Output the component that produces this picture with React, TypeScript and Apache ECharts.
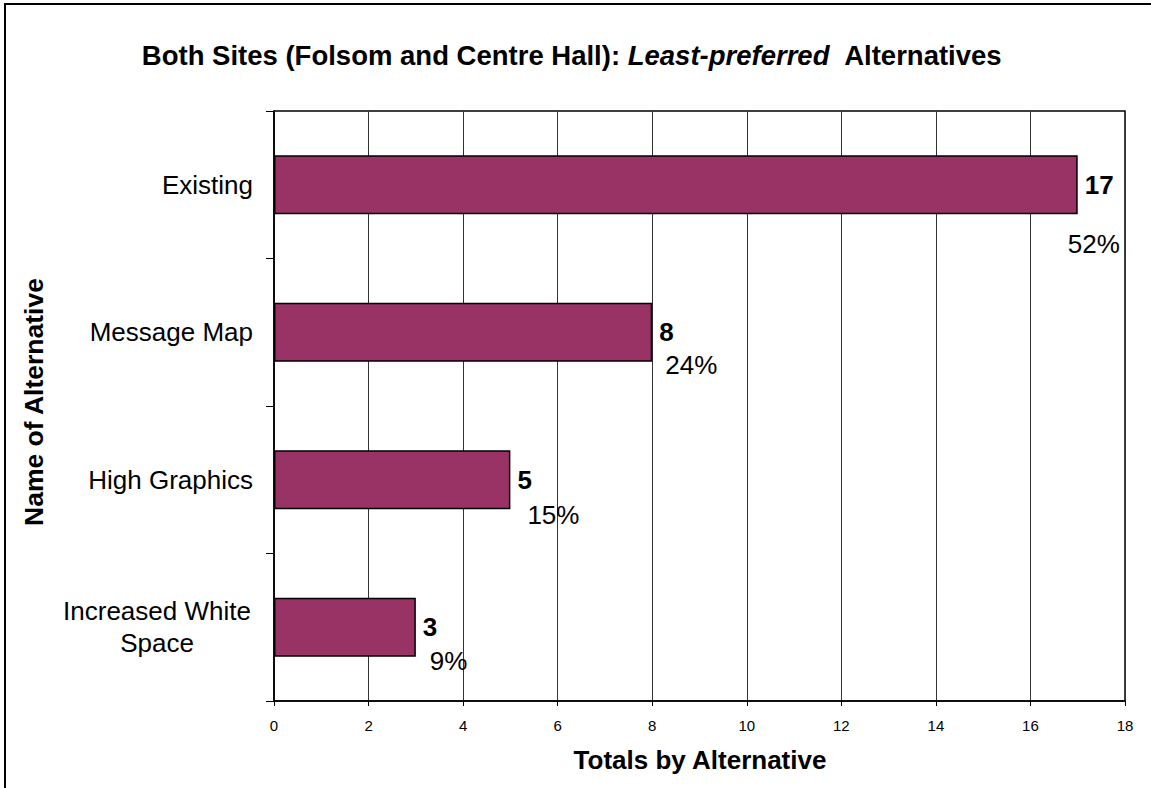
import React, { useEffect, useRef } from "react";
import * as echarts from "echarts";

const categories = ["Existing", "Message Map", "High Graphics", "Increased White\nSpace"];
const totals = [17, 8, 5, 3];
const percentLabels = ["52%", "24%", "15%", "9%"];
const percentOffsets = [[-10, 59], [13, 33], [17, 35], [14, 34]];
const xTicks = { min: 0, max: 18, interval: 2 };

const FONT = "'Liberation Sans', Arial, Helvetica, sans-serif";

export default function App() {
  const ref = useRef<HTMLDivElement>(null);
  useEffect(() => {
    document.body.style.margin = "0";
    const chart = echarts.init(ref.current!, null, { renderer: "svg" });
    chart.setOption({
      animation: false,
      backgroundColor: "#fff",
      textStyle: { fontFamily: FONT },
      title: {
        text: "{a|Both Sites (Folsom and Centre Hall): }{b|Least-preferred}{a|  Alternatives}",
        left: 567,
        top: 34,
        textAlign: "center",
        textStyle: {
          rich: {
            a: { fontSize: 27.5, fontWeight: "bold", fontFamily: FONT, color: "#000", lineHeight: 32 },
            b: { fontSize: 27.5, fontWeight: "bold", fontStyle: "italic", fontFamily: FONT, color: "#000", lineHeight: 32 },
          },
        },
      },
      grid: { left: 274, right: 26, top: 111, bottom: 87, show: true, borderColor: "#000", borderWidth: 1.5, containLabel: false },
      xAxis: {
        type: "value",
        min: xTicks.min,
        max: xTicks.max,
        interval: xTicks.interval,
        axisLine: { show: true, lineStyle: { color: "#000", width: 1.5 } },
        axisTick: { show: true, inside: false, length: 5, lineStyle: { color: "#000" } },
        axisLabel: { color: "#000", fontSize: 15, margin: 17, fontFamily: FONT },
        splitLine: { show: true, lineStyle: { color: "#333", width: 1 } },
      },
      yAxis: {
        type: "category",
        inverse: true,
        data: categories,
        axisLine: { show: true, lineStyle: { color: "#000", width: 1.5 } },
        axisTick: { show: true, inside: false, length: 8, lineStyle: { color: "#000" } },
        axisLabel: {
          color: "#000",
          fontSize: 26,
          lineHeight: 32,
          margin: 21,
          fontFamily: FONT,
          formatter: (v: string) =>
            v.includes("\n") ? v.split("\n").map((l) => "{c|" + l + "}").join("\n") : v,
          rich: { c: { width: 192, align: "center", fontSize: 26, lineHeight: 32, fontFamily: FONT, color: "#000" } },
        },
        splitLine: { show: false },
      },
      series: [
        {
          type: "bar",
          data: totals,
          barWidth: 59,
          itemStyle: { color: "#993366", borderColor: "#000", borderWidth: 1.5 },
          label: { show: true, position: "right", distance: 7, fontSize: 26, fontWeight: "bold", color: "#000", fontFamily: FONT },
        },
        {
          type: "bar",
          data: totals.map((v, i) => ({
            value: v,
            label: { offset: percentOffsets[i] },
          })),
          barWidth: 59,
          barGap: "-100%",
          silent: true,
          itemStyle: { color: "transparent", borderWidth: 0 },
          label: {
            show: true,
            position: "right",
            distance: 0,
            fontSize: 26,
            color: "#000",
            fontFamily: FONT,
            formatter: (p: any) => percentLabels[p.dataIndex],
          },
        },
      ],
      graphic: [
        {
          type: "rect",
          shape: { x: 5, y: 4, width: 1300, height: 1000 },
          style: { fill: "none", stroke: "#000", lineWidth: 2 },
          silent: true,
        },
        {
          type: "text",
          x: 34,
          y: 402,
          rotation: Math.PI / 2,
          style: { text: "Name of Alternative", fontSize: 26.5, fontWeight: "bold", fontFamily: FONT, fill: "#000", textAlign: "center", textVerticalAlign: "middle" },
        },
        {
          type: "text",
          x: 700,
          y: 760,
          style: { text: "Totals by Alternative", fontSize: 26, fontWeight: "bold", fontFamily: FONT, fill: "#000", textAlign: "center", textVerticalAlign: "middle" },
        },
      ],
    });
    return () => chart.dispose();
  }, []);
  return <div ref={ref} style={{ width: 1151, height: 788, position: "absolute", left: 0, top: 0 }} />;
}
